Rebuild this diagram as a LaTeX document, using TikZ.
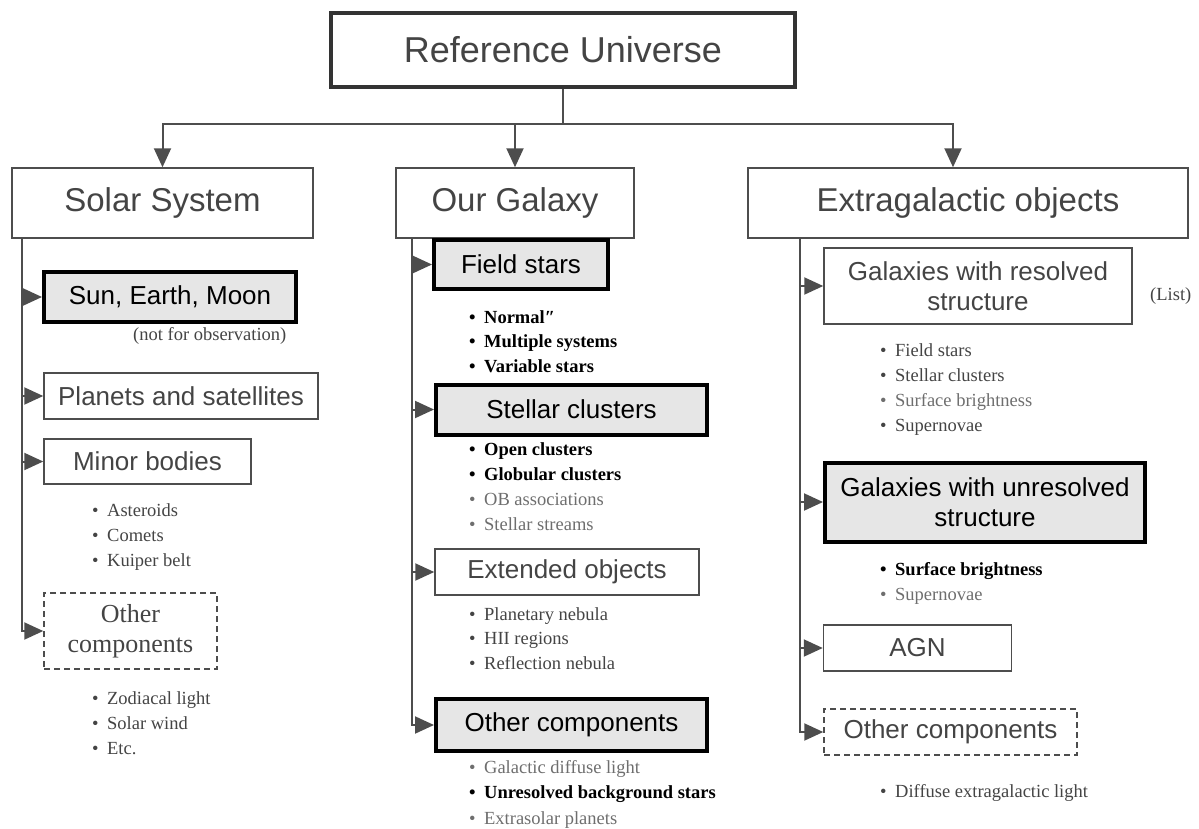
\documentclass[tikz,border=0pt]{standalone}
\usepackage{fontspec}
\setmainfont{Liberation Serif}
\setsansfont{Liberation Sans}
\usetikzlibrary{arrows.meta}

\definecolor{linegray}{HTML}{4D4D4D}
\definecolor{boxgray}{HTML}{E6E6E6}
\definecolor{txtgray}{HTML}{444444}
\definecolor{txtlight}{HTML}{6E6E6E}

% list entries: gray, bold black, light gray
\newcommand{\dotmark}{\textbullet\hskip 8.5pt}
\newcommand{\gitem}[1]{\textcolor{txtgray}{\dotmark #1}}
\newcommand{\bitem}[1]{{\bfseries\dotmark #1}}
\newcommand{\litem}[1]{\textcolor{txtlight}{\dotmark #1}}

\tikzset{
    plainbox/.style={draw=linegray, line width=1.5pt, text=txtgray, inner sep=0pt,
        align=center, font=\sffamily\fontsize{26}{30}\selectfont},
    keybox/.style={plainbox, draw=black, line width=4pt, fill=boxgray, text=black},
    otherbox/.style={plainbox, dash pattern=on 6pt off 4pt},
    headbox/.style={plainbox, font=\sffamily\fontsize{33}{38}\selectfont},
    link/.style={draw=linegray, line width=2pt, -{Triangle[length=19pt,width=17pt]}},
    item/.style={anchor=base west, inner sep=0pt, font=\fontsize{18.5}{22}\selectfont},
}

\begin{document}
\begin{tikzpicture}[x=1pt, y=-1pt]
    \useasboundingbox (0,0) rectangle (1199,828);

    % top
    \node[headbox, draw=black!80, line width=4pt, minimum width=464pt, minimum height=74pt,
        font=\sffamily\fontsize{36}{40}\selectfont] (ru) at (563,50) {Reference Universe};
    \node[headbox, minimum width=301pt, minimum height=70pt] (ss) at (162.5,203) {Solar System};
    \node[headbox, minimum width=238pt, minimum height=70pt] (og) at (515,203) {Our Galaxy};
    \node[headbox, minimum width=440pt, minimum height=70pt] (eo) at (968,203) {Extragalactic objects};

    \coordinate (split) at (563,124);
    \draw[link] (ru.south) -- (split) -| (ss.north);
    \draw[link] (split) -| (og.north);
    \draw[link] (split) -| ([xshift=-15pt]eo.north);

    % Solar System (left)
    \node[keybox, minimum width=252pt, minimum height=50pt] (sem) at (170,297) {Sun, Earth, Moon};
    \node[item, text=txtgray] (nfo) at (133,340) {(not for observation)};
    \node[plainbox, minimum width=274pt, minimum height=46pt] (ps) at (181,396) {Planets and satellites};
    \node[plainbox, minimum width=207pt, minimum height=45pt] (mb) at (147.5,461.5) {Minor bodies};
    \foreach \t [count=\i from 0] in {\gitem{Asteroids}, \gitem{Comets}, \gitem{Kuiper belt}}
        \node[item] (mb-\i) at (92,{516+25*\i}) {\t};
    \node[otherbox, minimum width=173pt, minimum height=76pt,
        font=\rmfamily\fontsize{26}{30}\selectfont] (ssoc) at (130.5,631) {Other\\components};
    \foreach \t [count=\i from 0] in {\gitem{Zodiacal light}, \gitem{Solar wind}, \gitem{Etc.}}
        \node[item] (ssoc-\i) at (92,{704+25*\i}) {\t};

    \foreach \n in {sem, ps, mb, ssoc}
        \draw[link] ([xshift=11pt]ss.south west) |- (\n.west);

    % Our Galaxy (middle)
    \node[keybox, minimum width=174pt, minimum height=49pt] (fs) at (521,264.5) {Field stars};
    \foreach \t [count=\i from 0] in {\bitem{Normal″}, \bitem{Multiple systems}, \bitem{Variable stars}}
        \node[item] (fs-\i) at (469,{323+24.5*\i}) {\t};
    \node[keybox, minimum width=271pt, minimum height=50pt] (sc) at (571.5,409.5) {Stellar clusters};
    \foreach \t [count=\i from 0] in {\bitem{Open clusters}, \bitem{Globular clusters},
            \litem{OB associations}, \litem{Stellar streams}}
        \node[item] (sc-\i) at (469,{455+25*\i}) {\t};
    \node[plainbox, minimum width=264pt, minimum height=46pt] (ext) at (567,572) {Extended objects};
    \foreach \t [count=\i from 0] in {\gitem{Planetary nebula}, \gitem{HII regions}, \gitem{Reflection nebula}}
        \node[item] (ext-\i) at (469,{620+24.5*\i}) {\t};
    \node[keybox, minimum width=271pt, minimum height=52pt] (ogoc) at (571.5,725) {Other components};
    \foreach \t [count=\i from 0] in {\litem{Galactic diffuse light}, \bitem{Unresolved background stars},
            \litem{Extrasolar planets}}
        \node[item] (ogoc-\i) at (469,{773+25.5*\i}) {\t};

    \foreach \n in {fs, sc, ext, ogoc}
        \draw[link] ([xshift=17pt]og.south west) |- (\n.west);

    % Extragalactic objects (right)
    \node[plainbox, minimum width=308pt, minimum height=76pt] (grs) at (978,286) {Galaxies with resolved\\structure};
    \node[item, text=txtgray] (lst) at (1150,300) {(List)};
    \foreach \t [count=\i from 0] in {\gitem{Field stars}, \gitem{Stellar clusters},
            \litem{Surface brightness}, \gitem{Supernovae}}
        \node[item] (grs-\i) at (880,{356+25*\i}) {\t};
    \node[keybox, minimum width=320pt, minimum height=79pt] (gus) at (985,502) {Galaxies with unresolved\\structure};
    \foreach \t [count=\i from 0] in {\bitem{Surface brightness}, \litem{Supernovae}}
        \node[item] (gus-\i) at (880,{575+25*\i}) {\t};
    \node[plainbox, minimum width=188pt, minimum height=46pt] (agn) at (917.5,648) {AGN};
    \node[otherbox, minimum width=253pt, minimum height=46pt] (eooc) at (950.5,732) {Other components};
    \node[item] (eooc-0) at (880,797) {\gitem{Diffuse extragalactic light}};

    \foreach \n in {grs, gus, agn, eooc}
        \draw[link] ([xshift=53pt]eo.south west) |- (\n.west);
\end{tikzpicture}
\end{document}
